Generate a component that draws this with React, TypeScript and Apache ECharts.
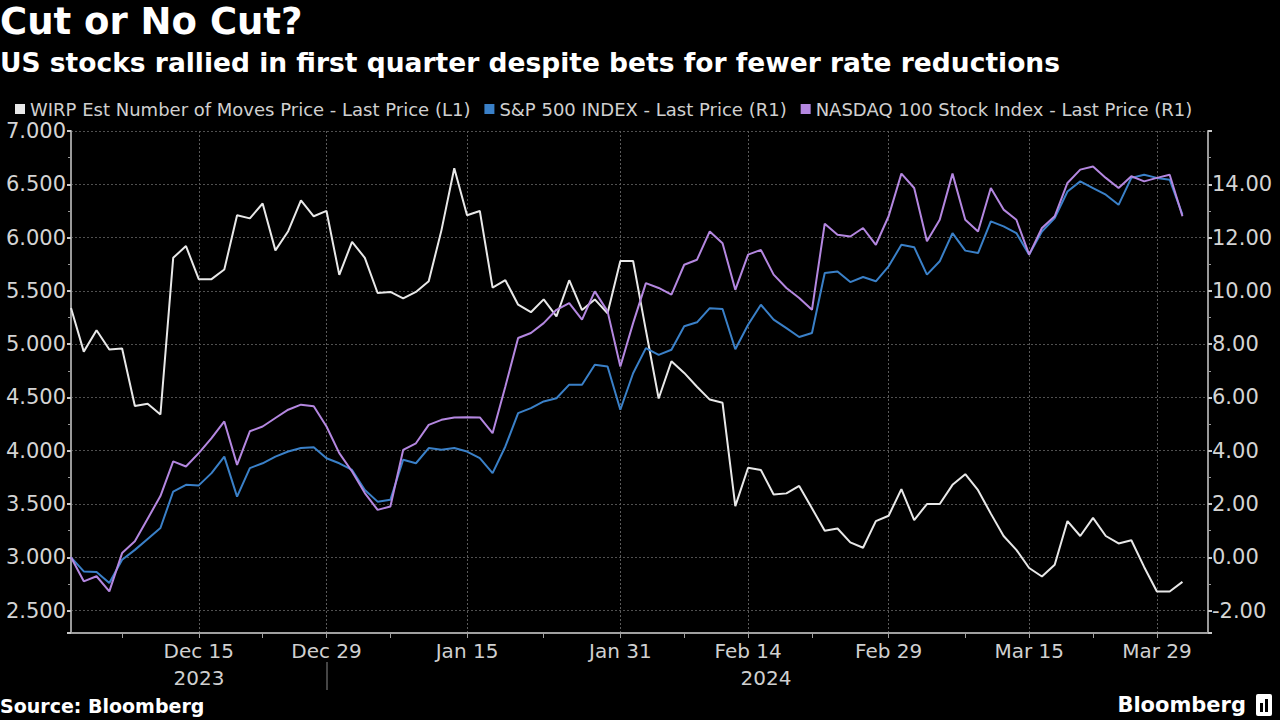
import React, { useEffect, useRef } from "react";
import * as echarts from "echarts";

// Weekday categories (Dec 1, 2023 .. Apr 4, 2024)
const dates = [
  "2023-12-01", "2023-12-04", "2023-12-05", "2023-12-06", "2023-12-07", "2023-12-08",
  "2023-12-11", "2023-12-12", "2023-12-13", "2023-12-14", "2023-12-15",
  "2023-12-18", "2023-12-19", "2023-12-20", "2023-12-21", "2023-12-22",
  "2023-12-25", "2023-12-26", "2023-12-27", "2023-12-28", "2023-12-29",
  "2024-01-01", "2024-01-02", "2024-01-03", "2024-01-04", "2024-01-05",
  "2024-01-08", "2024-01-09", "2024-01-10", "2024-01-11", "2024-01-12",
  "2024-01-15", "2024-01-16", "2024-01-17", "2024-01-18", "2024-01-19",
  "2024-01-22", "2024-01-23", "2024-01-24", "2024-01-25", "2024-01-26",
  "2024-01-29", "2024-01-30", "2024-01-31", "2024-02-01", "2024-02-02",
  "2024-02-05", "2024-02-06", "2024-02-07", "2024-02-08", "2024-02-09",
  "2024-02-12", "2024-02-13", "2024-02-14", "2024-02-15", "2024-02-16",
  "2024-02-19", "2024-02-20", "2024-02-21", "2024-02-22", "2024-02-23",
  "2024-02-26", "2024-02-27", "2024-02-28", "2024-02-29", "2024-03-01",
  "2024-03-04", "2024-03-05", "2024-03-06", "2024-03-07", "2024-03-08",
  "2024-03-11", "2024-03-12", "2024-03-13", "2024-03-14", "2024-03-15",
  "2024-03-18", "2024-03-19", "2024-03-20", "2024-03-21", "2024-03-22",
  "2024-03-25", "2024-03-26", "2024-03-27", "2024-03-28", "2024-03-29",
  "2024-04-01", "2024-04-02", "2024-04-03", "2024-04-04",
];

// WIRP Est Number of Moves (left axis)
const wirp = [
  5.34, 4.93, 5.13, 4.95, 4.96, 4.42, 4.44, 4.34, 5.81, 5.92,
  5.61, 5.61, 5.70, 6.21, 6.18, 6.32, 5.88, 6.06, 6.35, 6.20,
  6.25, 5.65, 5.96, 5.81, 5.48, 5.49, 5.43, 5.49, 5.59, 6.07,
  6.65, 6.21, 6.25, 5.53, 5.60, 5.37, 5.30, 5.42, 5.26, 5.60,
  5.32, 5.42, 5.29, 5.78, 5.78, 5.13, 4.49, 4.84, 4.73, 4.60,
  4.48, 4.45, 3.48, 3.84, 3.82, 3.59, 3.60, 3.67, 3.46, 3.25,
  3.27, 3.14, 3.09, 3.34, 3.39, 3.64, 3.35, 3.50, 3.50, 3.68,
  3.78, 3.63, 3.41, 3.20, 3.07, 2.90, 2.82, 2.93, 3.34, 3.20,
  3.37, 3.20, 3.13, 3.16, 2.91, 2.68, 2.68, 2.77,
];

// S&P 500 INDEX (right axis, % change)
const spx = [
  0.0, -0.53, -0.55, -0.96, -0.09, 0.28, 0.69, 1.10, 2.47, 2.72,
  2.70, 3.16, 3.78, 2.28, 3.35, 3.53, 3.78, 3.97, 4.10, 4.13,
  3.72, 3.53, 3.28, 2.53, 2.09, 2.16, 3.66, 3.53, 4.10, 4.04,
  4.10, 3.97, 3.72, 3.16, 4.16, 5.41, 5.60, 5.85, 5.97, 6.48,
  6.48, 7.23, 7.16, 5.54, 6.91, 7.85, 7.60, 7.79, 8.67, 8.82,
  9.35, 9.32, 7.81, 8.73, 9.48, 8.92, 8.60, 8.27, 8.42, 10.67,
  10.73, 10.33, 10.52, 10.36, 10.92, 11.73, 11.64, 10.61, 11.11, 12.17,
  11.51, 11.42, 12.61, 12.42, 12.17, 11.36, 12.23, 12.73, 13.73, 14.11,
  13.86, 13.61, 13.23, 14.24, 14.36, 14.24, 14.17, 12.86,
];

// NASDAQ 100 Stock Index (right axis, % change)
const ndx = [
  0.0, -0.9, -0.71, -1.28, 0.16, 0.6, 1.45, 2.3, 3.6, 3.41,
  3.91, 4.47, 5.10, 3.47, 4.73, 4.91, 5.23, 5.54, 5.73, 5.67,
  4.91, 3.91, 3.22, 2.41, 1.78, 1.91, 4.03, 4.28, 4.97, 5.16,
  5.25, 5.26, 5.25, 4.66, 6.41, 8.23, 8.42, 8.79, 9.29, 9.54,
  8.92, 9.98, 9.23, 7.16, 8.79, 10.29, 10.11, 9.86, 10.98, 11.17,
  12.23, 11.79, 10.04, 11.36, 11.54, 10.61, 10.11, 9.73, 9.29, 12.52,
  12.11, 12.04, 12.36, 11.73, 12.80, 14.40, 13.86, 11.86, 12.67, 14.40,
  12.67, 12.23, 13.86, 13.05, 12.67, 11.36, 12.36, 12.80, 14.05, 14.55,
  14.67, 14.24, 13.86, 14.30, 14.11, 14.24, 14.36, 12.80,
];

const seriesNames = [
  "WIRP Est Number of Moves Price - Last Price (L1)",
  "S&P 500 INDEX - Last Price (R1)",
  "NASDAQ 100 Stock Index - Last Price (R1)",
];
const seriesColors = ["#e8e8e8", "#3a80c8", "#b487e0"];

const tickDates = [
  "2023-12-07", "2023-12-15", "2023-12-22", "2023-12-29", "2024-01-05",
  "2024-01-15", "2024-01-23", "2024-01-31", "2024-02-07", "2024-02-14",
  "2024-02-21", "2024-02-29", "2024-03-08", "2024-03-15", "2024-03-22",
  "2024-03-29",
];
const labelDates = [
  "2023-12-15", "2023-12-29", "2024-01-15", "2024-01-31",
  "2024-02-14", "2024-02-29", "2024-03-15", "2024-03-29",
];
const labelTexts = ["Dec 15", "Dec 29", "Jan 15", "Jan 31", "Feb 14", "Feb 29", "Mar 15", "Mar 29"];
const yearLabels = ["2023", "2024"];

const titleText = "Cut or No Cut?";
const subtitleText = "US stocks rallied in first quarter despite bets for fewer rate reductions";
const sourceText = "Source: Bloomberg";
const brandText = "Bloomberg";

const FONT = "DejaVu Sans";

export default function App() {
  const ref = useRef<HTMLDivElement>(null);

  useEffect(() => {
    if (!ref.current) return;
    const chart = echarts.init(ref.current, null, { renderer: "svg" });

    const option: any = {
      animation: false,
      backgroundColor: "#000000",
      textStyle: { fontFamily: FONT },
      grid: { left: 71, right: 72, top: 131, bottom: 87, containLabel: false },
      legend: {
        left: 10,
        top: 95,
        itemGap: 14,
        itemWidth: 10,
        itemHeight: 10,
        icon: "rect",
        textStyle: { color: "#d0d0d0", fontSize: 18, fontFamily: FONT },
        data: seriesNames,
      },
      xAxis: {
        type: "category",
        data: dates,
        boundaryGap: false,
        axisLine: { show: true, onZero: false, lineStyle: { color: "#a0a0a0", width: 2 } },
        axisTick: {
          show: true,
          length: 5,
          interval: (_i: number, v: string) => tickDates.includes(v),
          lineStyle: { color: "#a0a0a0", width: 1 },
        },
        axisLabel: {
          color: "#d0d0d0",
          fontSize: 20,
          fontFamily: FONT,
          margin: 8,
          interval: (_i: number, v: string) => labelDates.includes(v),
          formatter: (v: string) => {
            const k = labelDates.indexOf(v);
            return k >= 0 ? labelTexts[k] : "";
          },
        },
        splitLine: {
          show: true,
          interval: (_i: number, v: string) => labelDates.includes(v),
          lineStyle: { color: "#5a5a5a", type: [2, 2], width: 1 },
        },
      },
      yAxis: [
        {
          type: "value",
          position: "left",
          min: 2.29,
          max: 7.0,
          splitNumber: 9,
          axisLine: { show: true, onZero: false, lineStyle: { color: "#9a9a9a", width: 2 } },
          axisTick: { show: true, length: 4, lineStyle: { color: "#c8c8c8", width: 2 } },
          minorTick: { show: true, splitNumber: 2, length: 3, lineStyle: { color: "#9a9a9a", width: 1 } },
          axisLabel: {
            color: "#d4d4d4",
            fontSize: 21,
            fontFamily: FONT,
            margin: 5,
            padding: [6, 0, 0, 0],
            showMinLabel: false,
            formatter: (v: number) =>
              Math.abs(v * 2 - Math.round(v * 2)) < 1e-6 ? v.toFixed(3) : "",
          },
          splitLine: { show: true, lineStyle: { color: "#505050", type: [2, 2], width: 1 } },
        },
        {
          type: "value",
          position: "right",
          min: -2.84,
          max: 16,
          splitNumber: 9,
          axisLine: { show: true, onZero: false, lineStyle: { color: "#9a9a9a", width: 2 } },
          axisTick: { show: true, length: 4, lineStyle: { color: "#c8c8c8", width: 2 } },
          minorTick: { show: true, splitNumber: 2, length: 3, lineStyle: { color: "#9a9a9a", width: 1 } },
          axisLabel: {
            color: "#d4d4d4",
            fontSize: 21,
            fontFamily: FONT,
            margin: 4,
            padding: [3, 0, 0, 0],
            showMinLabel: false,
            formatter: (v: number) =>
              Math.abs(v - Math.round(v)) < 1e-6 && Math.round(v) % 2 === 0 && v < 15 ? v.toFixed(2) : "",
          },
          splitLine: { show: false },
        },
      ],
      series: [
        {
          name: seriesNames[0],
          type: "line",
          yAxisIndex: 0,
          data: wirp,
          showSymbol: false,
          symbol: "none",
          color: seriesColors[0],
          lineStyle: { width: 2, color: seriesColors[0] },
        },
        {
          name: seriesNames[1],
          type: "line",
          yAxisIndex: 1,
          data: spx,
          showSymbol: false,
          symbol: "none",
          color: seriesColors[1],
          lineStyle: { width: 2, color: seriesColors[1] },
        },
        {
          name: seriesNames[2],
          type: "line",
          yAxisIndex: 1,
          data: ndx,
          showSymbol: false,
          symbol: "none",
          color: seriesColors[2],
          lineStyle: { width: 2, color: seriesColors[2] },
        },
      ],
      graphic: [
        {
          type: "text",
          left: 0,
          top: 3,
          style: { text: titleText, fill: "#ffffff", font: `bold 37px "${FONT}"` },
        },
        {
          type: "text",
          left: 0,
          top: 49,
          style: { text: subtitleText, fill: "#ffffff", font: `bold 26.5px "${FONT}"` },
        },
        {
          type: "text",
          x: 199,
          y: 678,
          style: {
            text: yearLabels[0],
            fill: "#d0d0d0",
            font: `20px "${FONT}"`,
            align: "center",
            verticalAlign: "middle",
          },
        },
        {
          type: "text",
          x: 766,
          y: 678,
          style: {
            text: yearLabels[1],
            fill: "#d0d0d0",
            font: `20px "${FONT}"`,
            align: "center",
            verticalAlign: "middle",
          },
        },
        {
          type: "line",
          shape: { x1: 327, y1: 662, x2: 327, y2: 690 },
          style: { stroke: "#8a8a8a", lineWidth: 1 },
        },
        {
          type: "text",
          x: 0,
          y: 706,
          style: {
            text: sourceText,
            fill: "#ffffff",
            font: `bold 19px "${FONT}"`,
            verticalAlign: "middle",
          },
        },
        {
          type: "text",
          x: 1246,
          y: 705,
          style: {
            text: brandText,
            fill: "#ffffff",
            font: `bold 21px "${FONT}"`,
            align: "right",
            verticalAlign: "middle",
          },
        },
        {
          type: "group",
          x: 1256,
          y: 694,
          children: [
            { type: "rect", shape: { x: 0, y: 0, width: 16, height: 22, r: 2 }, style: { fill: "#ffffff" } },
            { type: "rect", shape: { x: 4, y: 9, width: 3, height: 9 }, style: { fill: "#000000" } },
            { type: "rect", shape: { x: 9, y: 5, width: 3, height: 13 }, style: { fill: "#000000" } },
          ],
        },
      ],
    };

    chart.setOption(option);
    return () => chart.dispose();
  }, []);

  return (
    <div
      ref={ref}
      style={{ position: "fixed", left: 0, top: 0, width: 1280, height: 720, background: "#000" }}
    />
  );
}
